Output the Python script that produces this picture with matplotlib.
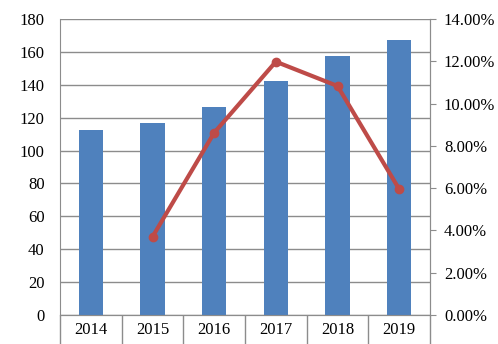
import matplotlib
matplotlib.use("Agg")
import matplotlib.pyplot as plt
import matplotlib.ticker as ticker

years = ["2014", "2015", "2016", "2017", "2018", "2019"]
output = [112.5, 116.8, 126.5, 142.3, 157.5, 167.3]
growth_years = ["2015", "2016", "2017", "2018", "2019"]
growth = [3.70, 8.62, 11.98, 10.83, 5.95]

plt.rcParams['font.family'] = ['Liberation Serif', 'DejaVu Serif']
plt.rcParams['font.size'] = 12

grey = '#8c8c8c'
bar_color = '#4f81bd'
line_color = '#be4b48'


def main():
    fig = plt.figure(figsize=(4.98, 3.44), dpi=100)
    ax = fig.add_axes([0.1205, 0.0843, 0.743, 0.8605])
    x = list(range(len(years)))
    ax.bar(x, output, width=0.39, color=bar_color, zorder=3)
    ax.set_xlim(-0.5, len(years) - 0.5)
    ax.set_ylim(0, 180)
    ax.set_yticks(range(0, 181, 20))
    ax.grid(axis='y', color=grey, linewidth=1.0, zorder=0)
    ax.set_xticks(x)
    ax.set_xticklabels(years)
    ax.set_xticks([i - 0.5 for i in range(len(years) + 1)], minor=True)
    ax.tick_params(axis='x', which='major', length=0, pad=5)
    ax.tick_params(axis='x', which='minor', length=21, width=1.0, color=grey, direction='out')
    ax.tick_params(axis='y', length=0, pad=11)
    for s in ax.spines.values():
        s.set_color(grey)
    ax.spines['top'].set_visible(False)

    ax2 = ax.twinx()
    xi = [years.index(y) for y in growth_years]
    ax2.plot(xi, growth, color=line_color, linewidth=3, marker='o', markersize=6, zorder=4)
    ax2.set_ylim(0, 14)
    ax2.set_yticks(range(0, 15, 2))
    ax2.yaxis.set_major_formatter(ticker.FuncFormatter(lambda v, p: f'{v:.2f}%'))
    ax2.tick_params(axis='y', length=4, color=grey, pad=6)
    for s in ax2.spines.values():
        s.set_color(grey)
    ax2.spines['top'].set_visible(False)
    ax2.spines['left'].set_visible(False)

    fig.savefig('out.png', dpi=100)


if __name__ == '__main__':
    main()
